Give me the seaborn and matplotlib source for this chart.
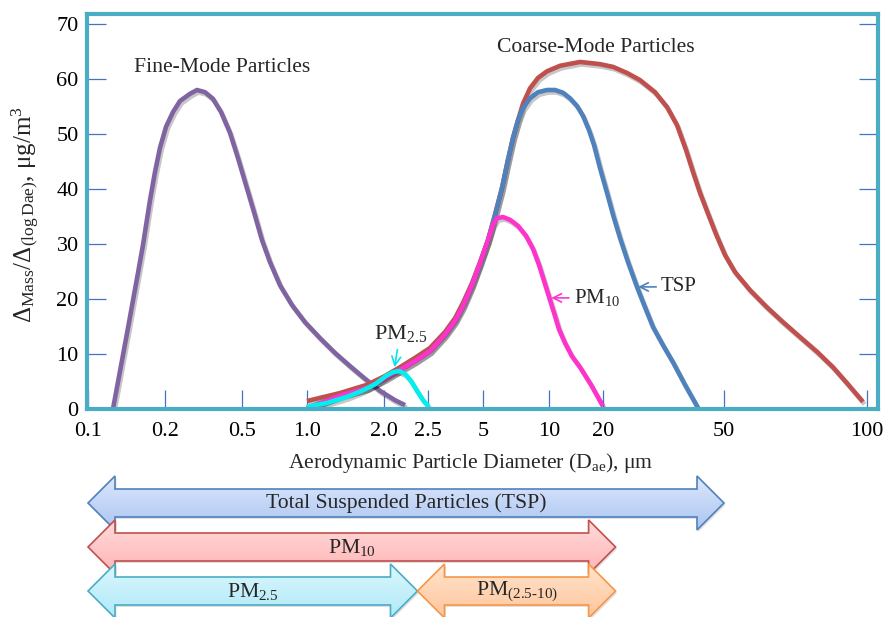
import numpy as np
import pandas as pd
import matplotlib
matplotlib.use('Agg')
from matplotlib import pyplot as plt
from matplotlib import patheffects as pe
from matplotlib.patches import Polygon
from matplotlib.colors import LinearSegmentedColormap
from matplotlib.ticker import FixedLocator, NullLocator
import seaborn as sns

# ---- data (diameter in um, dM/dlogD in ug/m3) ----
fine_d = [0.1252, 0.1310, 0.1370, 0.1433, 0.1500, 0.1568, 0.1640, 0.1748, 0.1828, 0.1912,
          0.2024, 0.2200, 0.2390, 0.2691, 0.2926, 0.3220, 0.3540, 0.3896, 0.4335, 0.4769,
          0.5218, 0.5682, 0.6189, 0.6740, 0.7497, 0.8522, 0.9789, 1.124, 1.287, 1.473,
          1.686, 1.929, 2.115, 2.225]
fine_v = [0, 4.9, 9.8, 14.7, 19.8, 24.7, 29.8, 38.0, 43.1, 47.5,
          51.3, 54.0, 56.0, 57.3, 58.0, 57.6, 56.4, 54.0, 50.2, 45.6,
          40.7, 35.8, 30.7, 26.7, 22.5, 18.9, 15.8, 12.9, 10.2, 7.8,
          5.5, 3.3, 1.6, 0.7]

coarse_d = [1.0, 1.346, 1.716, 2.010, 2.169, 2.341, 2.564, 3.097, 3.513, 3.887,
            4.353, 4.816, 5.270, 5.673, 6.105, 6.501, 6.853, 7.223, 7.608, 8.191,
            8.909, 9.792, 11.52, 14.89, 19.25, 21.58, 23.99, 26.47, 29.66, 32.48,
            35.04, 37.50, 39.54, 41.69, 44.30, 47.06, 50.24, 52.74, 56.74, 61.57,
            66.56, 72.25, 78.50, 84.81, 91.20, 98.08]
coarse_v = [1.45, 2.9, 4.4, 6.0, 7.6, 9.3, 11.1, 14.0, 16.5, 19.3,
            22.9, 26.7, 30.7, 35.3, 40.2, 45.3, 49.3, 52.5, 55.5, 58.3,
            60.2, 61.4, 62.4, 63.1, 62.7, 62.2, 61.1, 59.8, 57.6, 54.9,
            51.6, 47.1, 43.1, 39.3, 35.5, 31.8, 28.0, 24.9, 21.6, 18.5,
            15.8, 13.1, 10.4, 7.6, 4.5, 1.3]

tsp_d = [1.0, 1.346, 1.716, 2.010, 2.169, 2.341, 2.564, 3.097, 3.513, 3.887,
         4.353, 4.816, 5.270, 5.673, 6.105, 6.501, 6.853, 7.223, 7.608, 8.191,
         8.909, 9.792, 10.80, 11.97, 13.09, 14.33, 15.47, 16.71, 17.82, 19.25,
         20.62, 21.58, 22.75, 24.17, 25.87, 27.49, 29.21, 31.51, 33.98, 37.21, 41.06]
tsp_v = [0.2, 2.4, 3.8, 5.5, 7.1, 8.7, 10.5, 13.5, 16.0, 18.7,
         22.5, 26.5, 30.7, 35.3, 40.2, 45.3, 49.3, 52.5, 54.7, 56.5,
         57.6, 58.0, 58.0, 57.5, 56.5, 55.1, 53.3, 50.7, 48.0, 43.8,
         39.3, 35.3, 31.1, 26.7, 22.2, 18.5, 14.9, 11.6, 8.5, 4.4, 0.2]

pm10_d = [1.0, 1.346, 1.716, 2.010, 2.169, 2.341, 2.564, 3.097, 3.513, 3.887,
          4.353, 4.816, 5.270, 5.555, 5.793, 6.170, 6.639, 7.223, 7.854, 8.457,
          9.003, 9.489, 10.00, 10.66, 11.37, 12.28, 13.43, 14.89, 17.15, 20.0]
pm10_v = [0.1, 2.4, 3.8, 5.5, 7.1, 8.7, 10.5, 13.5, 16.0, 18.7,
          22.5, 26.5, 30.7, 33.5, 34.7, 34.9, 34.4, 33.3, 31.5, 29.1,
          26.2, 23.3, 20.4, 17.5, 14.5, 12.0, 9.6, 7.6, 4.4, 0.5]

pm25_d = [1.0, 1.197, 1.433, 1.641, 1.845, 2.021, 2.094, 2.158, 2.225, 2.294, 2.365, 2.438, 2.532]
pm25_v = [0.4, 1.1, 2.2, 3.3, 4.5, 6.0, 6.7, 6.9, 6.4, 5.1, 3.3, 1.6, 0.4]

tick_vals = [0.1, 0.2, 0.5, 1.0, 2.0, 2.5, 5, 10, 20, 50, 100]
tick_labels = ['0.1', '0.2', '0.5', '1.0', '2.0', '2.5', '5', '10', '20', '50', '100']

band_labels = ['Total Suspended Particles (TSP)', r'PM$_{\mathrm{10}}$',
               r'PM$_{\mathrm{2.5}}$', r'PM$_{\mathrm{(2.5\text{-}10)}}$']
band_lo = [0.1, 0.1, 0.1, 2.37]
band_hi = [50, 22, 2.37, 22]

# ---- style ----
sns.set_style('white')
plt.rcParams['font.family'] = ['Liberation Serif', 'DejaVu Serif']
plt.rcParams['mathtext.fontset'] = 'custom'
plt.rcParams['mathtext.rm'] = 'Liberation Serif'
plt.rcParams['mathtext.it'] = 'Liberation Serif:italic'
plt.rcParams['mathtext.bf'] = 'Liberation Serif:bold'

W, H = 885, 617
L, R, T, B = 87, 878, 14, 409          # frame in pixels
PX_PER_UNIT = 5.5

# the x axis of the original is not a true log axis: tick spacing is uneven
TICK_PIX = np.array([88, 165, 242, 307, 384, 428, 483, 549, 603, 724, 867], float)
LOGT = np.log10(tick_vals)


def _lin(v, xp, fp):
    v = np.asarray(v, dtype=float)
    out = np.interp(v, xp, fp)
    s0 = (fp[1] - fp[0]) / (xp[1] - xp[0])
    s1 = (fp[-1] - fp[-2]) / (xp[-1] - xp[-2])
    out = np.where(v < xp[0], fp[0] + (v - xp[0]) * s0, out)
    out = np.where(v > xp[-1], fp[-1] + (v - xp[-1]) * s1, out)
    return out


def fwd(x):
    return _lin(np.log10(np.clip(np.asarray(x, dtype=float), 1e-9, None)), LOGT, TICK_PIX)


def inv(p):
    return 10 ** _lin(p, TICK_PIX, LOGT)


fig = plt.figure(figsize=(W / 100, H / 100), dpi=100)
ax = fig.add_axes([L / W, 1 - B / H, (R - L) / W, (B - T) / H], zorder=2)

series = [
    (fine_d, fine_v, '#8064A2'),
    (coarse_d, coarse_v, '#C0504D'),
    (tsp_d, tsp_v, '#4F81BD'),
    (pm10_d, pm10_v, '#FF33CC'),
    (pm25_d, pm25_v, '#00F0F0'),
]
for d, v, c in series:
    df = pd.DataFrame({'d': d, 'v': v})
    sns.lineplot(data=df, x='d', y='v', ax=ax, color=c, lw=3.3,
                 estimator=None, sort=False)

for ln in ax.lines:
    ln.set_solid_capstyle('butt')
    ln.set_solid_joinstyle('round')
    ln.set_path_effects([pe.SimpleLineShadow(offset=(1.2, -1.8), shadow_color='k', alpha=0.22),
                         pe.Normal()])

ax.set_xscale('function', functions=(fwd, inv))
ax.set_xlim(float(inv(L)), float(inv(R)))
ax.set_ylim(0, (B - T) / PX_PER_UNIT)
ax.xaxis.set_major_locator(FixedLocator(tick_vals))
ax.xaxis.set_minor_locator(NullLocator())
ax.set_xticklabels(tick_labels)
ax.set_yticks(range(0, 71, 10))
ax.yaxis.set_minor_locator(NullLocator())

for s in ax.spines.values():
    s.set_color('#4BACC6')
    s.set_linewidth(3)
ax.tick_params(axis='both', direction='in', length=14, width=0.9, color='#4472C4',
               labelsize=16, labelcolor='black')
ax.tick_params(axis='y', left=True, right=True, pad=6)
ax.tick_params(axis='x', bottom=True, top=False, pad=9)

ax.set_xlabel(r'Aerodynamic Particle Diameter (D$_{\mathrm{ae}}$), μm', fontsize=15.6, va='center')
ax.xaxis.set_label_coords((471 - L) / (R - L), (B - 463) / (B - T))
ax.set_ylabel(r'$\Delta_{\mathrm{Mass}}/\Delta_{(\mathrm{log\,Dae})}$, μg/m$^{3}$', fontsize=18, va='center')
ax.yaxis.set_label_coords((25 - L) / (R - L), (B - 214) / (B - T))

ax.text(0.394, 62.0, 'Fine-Mode Particles', ha='center', va='center', fontsize=15.6)
ax.text(18.3, 65.8, 'Coarse-Mode Particles', ha='center', va='center', fontsize=15.6)
ax.annotate(r'PM$_{\mathrm{2.5}}$', xy=(2.11, 7.6), xytext=(2.17, 13.8), ha='center', va='center',
            fontsize=16, arrowprops=dict(arrowstyle='->', color='#00E5EE', lw=1.2, shrinkA=2, shrinkB=0))
ax.annotate(r'PM$_{\mathrm{10}}$', xy=(10.3, 20.2), xytext=(13.7, 20.2), ha='left', va='center',
            fontsize=15, arrowprops=dict(arrowstyle='->', color='#FF33CC', lw=1.2, shrinkA=1, shrinkB=0))
ax.annotate('TSP', xy=(26.1, 22.2), xytext=(31.0, 22.2), ha='left', va='center',
            fontsize=15, arrowprops=dict(arrowstyle='->', color='#4F81BD', lw=1.2, shrinkA=1, shrinkB=0))

# ---- size-range block arrows below the axis ----
ov = fig.add_axes([0, 0, 1, 1], zorder=1)
ov.axis('off')
row_y = [503, 547, 591, 591]
fills = [('#DCE7FC', '#ABC5F1'), ('#FFDADA', '#FFB5B5'), ('#DCF7FD', '#AEE9F8'), ('#FFE4CC', '#FFC59C')]
edges = ['#4F81BD', '#C0504D', '#4BACC6', '#F79646']
hs, hh, hl = 14, 27, 27


def to_px(d):
    return float(ax.transData.transform((d, 0))[0])


for i, (lab, lo, hi) in enumerate(zip(band_labels, band_lo, band_hi)):
    x0, x1, yc = to_px(lo), to_px(hi), row_y[i]
    verts = [(x0, yc), (x0 + hl, yc - hh), (x0 + hl, yc - hs), (x1 - hl, yc - hs), (x1 - hl, yc - hh),
             (x1, yc), (x1 - hl, yc + hh), (x1 - hl, yc + hs), (x0 + hl, yc + hs), (x0 + hl, yc + hh)]
    z = 2 + i
    sh = Polygon([(x + 1.5, y + 2) for x, y in verts], closed=True, fc='k', ec='none', alpha=0.12, zorder=z - 0.2)
    ov.add_patch(sh)
    poly = Polygon(verts, closed=True, fc='none', ec=edges[i], lw=1.2, zorder=z + 0.1)
    ov.add_patch(poly)
    cm = LinearSegmentedColormap.from_list('g%d' % i, list(fills[i]))
    img = ov.imshow(np.linspace(0, 1, 64).reshape(-1, 1), cmap=cm, aspect='auto', origin='upper',
                    extent=(x0, x1, yc + hh, yc - hh), zorder=z, interpolation='bilinear')
    img.set_clip_path(poly)
    ov.text((x0 + x1) / 2, yc, lab, ha='center', va='center', fontsize=15.6, zorder=z + 0.2)

ov.set_xlim(0, W)
ov.set_ylim(H, 0)

fig.savefig('out.png', dpi=100)
